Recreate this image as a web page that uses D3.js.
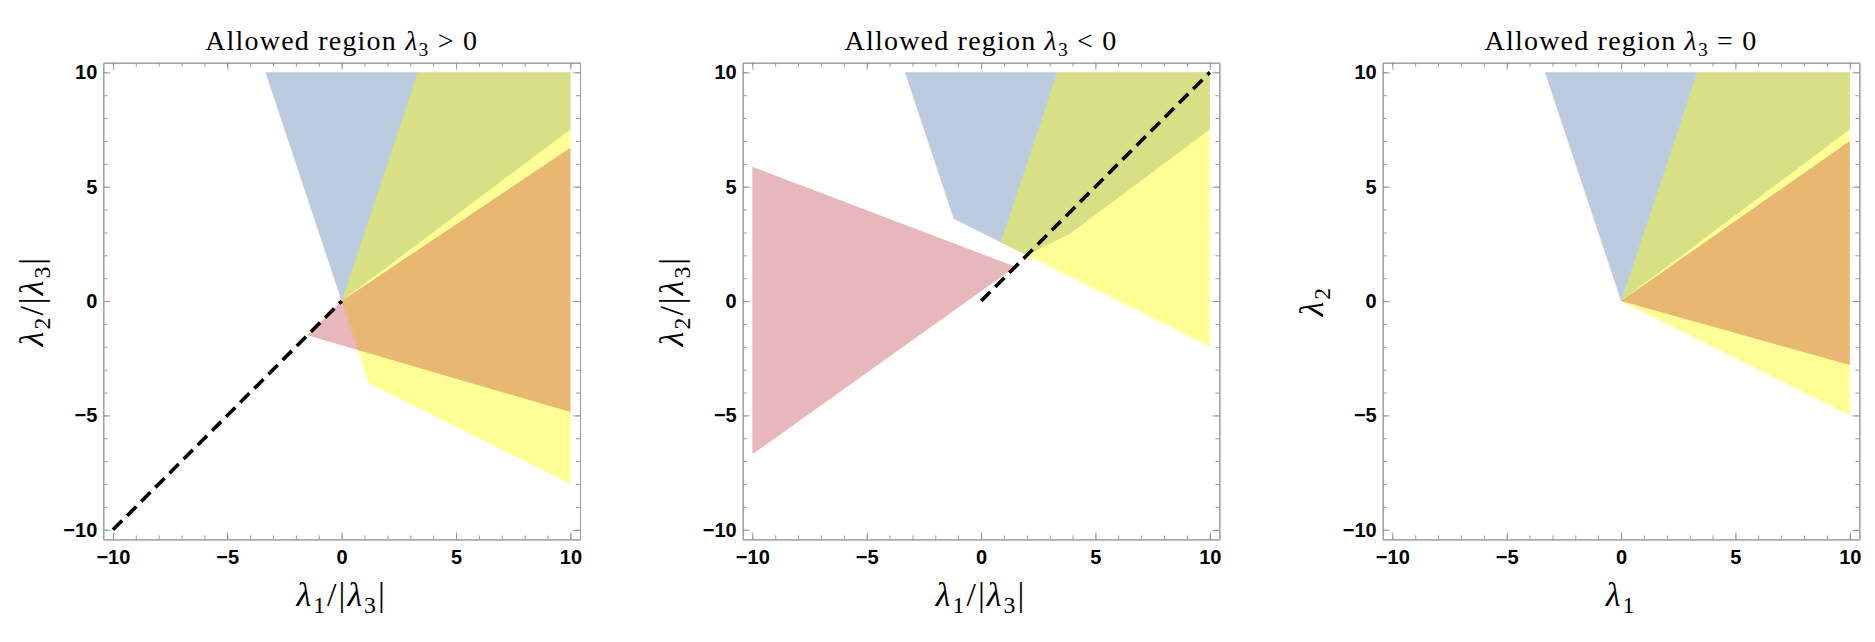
<!DOCTYPE html>
<html>
<head>
<meta charset="utf-8">
<style>
  body { margin: 0; background: #fff; }
  svg { display: block; }
  .axis path, .axis line { stroke: #9a9a9a; stroke-width: 1; }
  .tick text { font-family: "Liberation Sans", Arial, sans-serif; font-weight: bold; font-size: 20px; fill: #000; }
  .math { font-family: "Liberation Serif", "Times New Roman", serif; fill: #000; }
</style>
</head>
<body>
<script src="https://d3js.org/d3.v7.min.js"></script>
<script>
    // tick values and panel text
    const majorTicks = [-10, -5, 0, 5, 10];
    const minorTicks = d3.range(-10, 11);
    const titleRelations = [">", "<", "="];

    // region corners (lambda1, lambda2)
    // panel 1: lambda3 > 0
    const p1Blue = [[0, 0], [-3.33, 10], [10, 10], [10, 7.5]];
    const p1Yellow = [[0, 0], [3.33, 10], [10, 10], [10, -8], [1.2, -3.6]];
    const p1Red = [[-1.5, -1.5], [0, 0], [10, 6.7], [10, -4.85]];
    const p1Dash = [[-10, -10], [0, 0]];
    // panel 2: lambda3 < 0
    const p2Blue = [[-3.33, 10], [-1.2, 3.6], [2, 2], [3.9, 2.95], [10, 7.5], [10, 10]];
    const p2Yellow = [[0.857, 2.57], [3.33, 10], [10, 10], [10, -2]];
    const p2Red = [[-10, 5.87], [1.5, 1.5], [-10, -6.7]];
    const p2Dash = [[0, 0], [10, 10]];
    // panel 3: lambda3 = 0
    const p3Blue = [[0, 0], [-3.33, 10], [10, 10], [10, 7.5]];
    const p3Yellow = [[0, 0], [3.33, 10], [10, 10], [10, -5]];
    const p3Red = [[0, 0], [10, 7], [10, -2.8]];

    const ratioX = [["λ", "i"], ["1", "s"], ["/|", ""], ["λ", "i"], ["3", "s"], ["|", ""]];
    const ratioY = [["λ", "i"], ["2", "s"], ["/|", ""], ["λ", "i"], ["3", "s"], ["|", ""]];
    const plainX = [["λ", "i"], ["1", "s"]];
    const plainY = [["λ", "i"], ["2", "s"]];

    const panels = [
        { rel: titleRelations[0], blue: p1Blue, yellow: p1Yellow, red: p1Red, dash: p1Dash, xl: ratioX, yl: ratioY },
        { rel: titleRelations[1], blue: p2Blue, yellow: p2Yellow, red: p2Red, dash: p2Dash, xl: ratioX, yl: ratioY },
        { rel: titleRelations[2], blue: p3Blue, yellow: p3Yellow, red: p3Red, dash: null, xl: plainX, yl: plainY }
    ];

    const width = 1875, height = 642;
    const frameLefts = [103.3, 742.7, 1382.7];
    const frameTop = 62.7;
    const frameSize = 476.7;
    const pad = 10.42; // plot range padding around [-10, 10]

    const svg = d3.select("body").append("svg")
        .attr("width", width)
        .attr("height", height);

    const fmt = d => d < 0 ? "\u2212" + Math.abs(d) : "" + d;

    function mathText(sel, parts, size) {
        let lowered = false;
        parts.forEach(function (p) {
            const t = sel.append("tspan").text(p[0]);
            if (p[1] == "i") t.attr("font-style", "italic");
            if (p[1] == "s") {
                t.attr("font-size", size * 0.7).attr("dy", size * 0.2);
                lowered = true;
            } else if (lowered) {
                t.attr("dy", -size * 0.2);
                lowered = false;
            }
        });
    }

    panels.forEach(function (p, i) {
        const left = frameLefts[i];
        const x = d3.scaleLinear().domain([-pad, pad]).range([left, left + frameSize]);
        const y = d3.scaleLinear().domain([-pad, pad]).range([frameTop + frameSize, frameTop]);
        const line = d3.line().x(d => x(d[0])).y(d => y(d[1]));
        const g = svg.append("g");

        g.append("path").attr("d", line(p.blue) + "Z").attr("fill", "rgb(188,203,224)");
        g.append("path").attr("d", line(p.yellow) + "Z").attr("fill", "rgb(255,255,0)").attr("fill-opacity", 0.41);
        g.append("path").attr("d", line(p.red) + "Z").attr("fill", "rgb(178,15,31)").attr("fill-opacity", 0.3);
        if (p.dash) {
            g.append("path").attr("d", line(p.dash))
                .attr("fill", "none")
                .attr("stroke", "#000")
                .attr("stroke-width", 3.6)
                .attr("stroke-dasharray", "13,7");
        }

        const bottom = frameTop + frameSize, right = left + frameSize;
        function axis(fn, scale, tr, vals, size, labels, padding) {
            g.append("g").attr("class", "axis")
                .attr("transform", tr)
                .call(fn(scale).tickValues(vals).tickSizeInner(size).tickSizeOuter(0)
                    .tickPadding(padding).tickFormat(labels ? fmt : () => ""));
        }
        // minor ticks every unit, major every 5, on all four sides pointing in
        axis(d3.axisBottom, x, "translate(0," + bottom + ")", minorTicks, -4, false, 0);
        axis(d3.axisTop, x, "translate(0," + frameTop + ")", minorTicks, -4, false, 0);
        axis(d3.axisLeft, y, "translate(" + left + ",0)", minorTicks, -4, false, 0);
        axis(d3.axisRight, y, "translate(" + right + ",0)", minorTicks, -4, false, 0);
        axis(d3.axisBottom, x, "translate(0," + bottom + ")", majorTicks, -7, true, 10);
        axis(d3.axisTop, x, "translate(0," + frameTop + ")", majorTicks, -7, false, 0);
        axis(d3.axisLeft, y, "translate(" + left + ",0)", majorTicks, -7, true, 6);
        axis(d3.axisRight, y, "translate(" + right + ",0)", majorTicks, -7, false, 0);

        const cx = (x(-10) + x(10)) / 2, cy = (y(-10) + y(10)) / 2;

        // title
        const t = g.append("text").attr("class", "math")
            .attr("x", cx).attr("y", 50)
            .attr("text-anchor", "middle")
            .attr("font-size", 28)
            .attr("letter-spacing", 1.2);
        t.append("tspan").text("Allowed region ");
        mathText(t, [["λ", "i"], ["3", "s"], [" " + p.rel + " 0", ""]], 28);

        // axis labels
        const xl = g.append("text").attr("class", "math")
            .attr("x", cx).attr("y", 606)
            .attr("text-anchor", "middle")
            .attr("font-size", 34)
            .attr("letter-spacing", 2);
        mathText(xl, p.xl, 34);

        const yl = g.append("text").attr("class", "math")
            .attr("transform", "translate(" + (left - 60) + "," + cy + ") rotate(-90)")
            .attr("text-anchor", "middle")
            .attr("font-size", 34)
            .attr("letter-spacing", 2);
        mathText(yl, p.yl, 34);
    });
</script>
</body>
</html>
